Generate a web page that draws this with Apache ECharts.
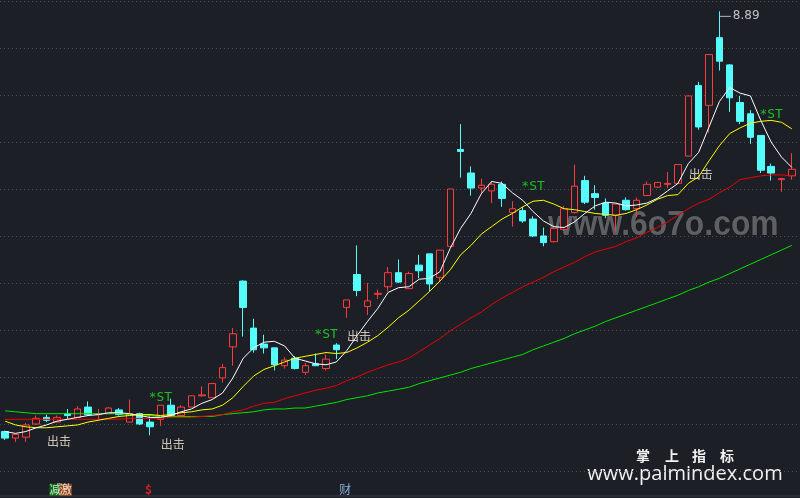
<!DOCTYPE html>
<html><head><meta charset="utf-8">
<script src="https://cdn.jsdelivr.net/npm/echarts@6/dist/echarts.min.js"></script>
<style>html,body{margin:0;padding:0;background:#1c1f26;}#c{width:800px;height:498px;}</style>
</head><body><div id="c"></div>
<script>
// ---- data ----
const opens = [4.42,4.35,4.36,4.50,4.57,4.52,4.61,4.57,4.68,4.60,
  4.61,4.65,4.52,4.61,4.52,4.55,4.70,4.59,4.68,4.80,
  4.78,4.99,5.32,6.02,5.52,5.35,5.31,5.12,5.20,5.05,
  5.14,5.09,5.34,5.74,6.09,5.75,5.88,5.96,6.11,5.94,
  6.19,6.31,6.06,6.39,7.42,7.17,7.01,6.98,7.05,6.75,
  6.77,6.68,6.50,6.44,6.57,6.75,7.09,6.95,6.85,6.72,
  6.88,6.79,6.93,7.02,7.05,7.06,7.35,8.10,7.89,8.61,
  8.32,7.92,7.80,7.57,7.24,7.10,7.14];
const closes = [4.35,4.39,4.49,4.56,4.54,4.57,4.59,4.66,4.60,4.61,
  4.67,4.60,4.61,4.50,4.47,4.70,4.59,4.68,4.80,4.81,
  4.93,5.10,5.46,5.74,5.29,5.31,5.13,5.18,5.09,5.12,
  5.12,5.19,5.29,5.82,5.92,5.81,5.89,6.11,6.01,6.10,
  6.13,5.99,6.35,7.00,7.40,7.01,7.04,7.05,6.90,6.79,
  6.66,6.50,6.43,6.58,6.79,7.03,6.86,6.91,6.72,6.84,
  6.78,6.88,7.05,7.07,7.06,7.26,7.99,7.66,8.43,8.36,
  7.97,7.72,7.55,7.20,7.17,7.11,7.21];
const lows = [4.33,4.31,4.31,4.49,4.52,4.52,4.55,4.57,4.59,4.53,
  4.61,4.59,4.52,4.49,4.38,4.48,4.57,4.59,4.68,4.79,
  4.78,4.94,5.12,5.43,5.26,5.25,5.07,5.09,5.08,5.02,
  5.12,5.07,5.19,5.63,5.86,5.66,5.83,5.91,6.00,5.94,
  6.05,5.91,6.01,6.39,7.12,6.93,6.95,6.85,6.81,6.60,
  6.64,6.49,6.39,6.43,6.57,6.74,6.84,6.78,6.69,6.55,
  6.77,6.70,6.93,7.01,7.01,7.06,7.35,7.63,7.60,8.26,
  7.82,7.69,7.48,7.17,7.09,6.97,7.10];
const highs = [4.43,4.40,4.51,4.59,4.60,4.59,4.66,4.69,4.74,4.66,
  4.68,4.67,4.76,4.62,4.58,4.70,4.77,4.70,4.80,4.90,
  4.93,5.14,5.52,6.03,5.62,5.45,5.31,5.21,5.22,5.15,
  5.25,5.24,5.36,5.82,6.40,6.00,5.93,6.17,6.25,6.12,
  6.30,6.31,6.35,7.00,7.69,7.24,7.11,7.08,7.08,6.87,
  6.81,6.71,6.59,6.60,6.82,7.26,7.14,7.04,6.90,6.84,
  6.91,6.91,7.08,7.07,7.18,7.26,7.99,8.14,8.43,8.89,
  8.33,7.99,7.84,7.57,7.27,7.12,7.38];
const ma5 = [4.42,4.40,4.42,4.46,4.49,4.53,4.55,4.57,4.59,4.60,
  4.62,4.62,4.61,4.59,4.57,4.57,4.59,4.63,4.66,4.72,
  4.76,4.83,4.99,5.20,5.31,5.37,5.38,5.33,5.20,5.17,
  5.14,5.13,5.16,5.28,5.44,5.59,5.73,5.90,5.95,5.96,
  6.04,6.05,6.12,6.37,6.58,6.74,6.95,7.08,7.06,6.96,
  6.88,6.76,6.66,6.60,6.59,6.65,6.74,6.82,6.86,6.85,
  6.82,6.83,6.85,6.90,6.98,7.06,7.27,7.39,7.66,7.93,
  8.08,8.02,7.99,7.73,7.50,7.34,7.23];
const ma10 = [4.53,4.49,4.47,4.46,4.46,4.47,4.48,4.49,4.52,4.54,
  4.56,4.58,4.59,4.60,4.60,4.59,4.60,4.62,4.63,4.65,
  4.66,4.70,4.78,4.90,5.01,5.08,5.12,5.16,5.20,5.22,
  5.24,5.26,5.25,5.26,5.31,5.37,5.44,5.53,5.63,5.71,
  5.81,5.91,6.02,6.14,6.30,6.40,6.52,6.60,6.68,6.74,
  6.81,6.87,6.88,6.84,6.79,6.78,6.76,6.74,6.73,6.72,
  6.74,6.78,6.83,6.89,6.93,6.94,7.06,7.13,7.30,7.46,
  7.59,7.65,7.70,7.72,7.73,7.71,7.64];
const ma30 = [4.55,4.55,4.55,4.55,4.55,4.55,4.55,4.55,4.55,4.55,
  4.55,4.55,4.56,4.56,4.56,4.56,4.57,4.57,4.57,4.58,
  4.59,4.60,4.63,4.65,4.69,4.72,4.73,4.77,4.80,4.83,
  4.86,4.88,4.91,4.96,5.00,5.05,5.09,5.13,5.16,5.20,
  5.27,5.34,5.41,5.49,5.56,5.63,5.69,5.77,5.84,5.90,
  5.96,6.01,6.06,6.12,6.17,6.22,6.28,6.33,6.36,6.39,
  6.44,6.48,6.54,6.59,6.65,6.72,6.79,6.85,6.89,6.96,
  7.02,7.10,7.12,7.14,7.15,7.15,7.14];
const ma60 = [4.64,4.63,4.62,4.61,4.61,4.61,4.61,4.61,4.61,4.61,
  4.61,4.61,4.60,4.60,4.59,4.58,4.58,4.58,4.58,4.58,
  4.58,4.60,4.61,4.62,4.63,4.65,4.66,4.66,4.67,4.67,
  4.69,4.71,4.73,4.76,4.78,4.80,4.83,4.85,4.87,4.89,
  4.93,4.96,4.99,5.02,5.05,5.09,5.12,5.15,5.18,5.21,
  5.24,5.29,5.33,5.37,5.41,5.46,5.50,5.54,5.59,5.63,
  5.67,5.71,5.75,5.79,5.83,5.87,5.92,5.96,6.01,6.05,
  6.10,6.15,6.20,6.25,6.30,6.35,6.40];
const days = opens.map((_, i) => 'D' + (i + 1));
// annotations
const stIdx = [15, 31, 51, 74];
const stVal = [4.78, 5.45, 7.02, 7.79];
const hitIdx = [5, 16, 34, 67];
const hitVal = [4.31, 4.28, 5.43, 7.15];
const maxIdx = 69, maxVal = 8.89;
const footIdx = [5, 6, 14, 33];
const footText = ['减', '激', '$', '财'];
const footVal = 3.80;
const yTicks = {min: 4.0, max: 9.0, step: 0.5};

const BG = '#1c1f26';
const chart = echarts.init(document.getElementById('c'), null, {renderer: 'canvas'});
const footStyles = [
  {color: '#ffffff', backgroundColor: '#12801a'},
  {color: '#ffffff', backgroundColor: '#b8521c'},
  {color: '#ff2020', fontWeight: 'bold'},
  {color: '#9ccfff'}
];
chart.setOption({
  animation: false,
  backgroundColor: BG,
  grid: {left: -3, right: 3, top: 1, height: 470},
  xAxis: {type: 'category', data: days, boundaryGap: true,
    axisLine: {show: false}, axisTick: {show: false}, axisLabel: {show: false}, splitLine: {show: false}},
  yAxis: {type: 'value', min: yTicks.min, max: yTicks.max, interval: yTicks.step,
    axisLine: {show: false}, axisTick: {show: false}, axisLabel: {show: false},
    splitLine: {show: true, lineStyle: {color: '#4a505c', width: 1, type: [1, 3]}}},
  series: [
    {type: 'candlestick', barWidth: 7,
      data: opens.map((o, i) => [o, closes[i], lows[i], highs[i]]),
      itemStyle: {color: BG, color0: '#54fcfc', borderColor: '#ff3c3c', borderColor0: '#54fcfc',
        borderColorDoji: '#ff3c3c', borderWidth: 1}},
    {type: 'line', data: ma60, symbol: 'none', lineStyle: {color: '#00e600', width: 1}},
    {type: 'line', data: ma30, symbol: 'none', lineStyle: {color: '#ee0000', width: 1}},
    {type: 'line', data: ma10, symbol: 'none', lineStyle: {color: '#ffff00', width: 1}},
    {type: 'line', data: ma5, symbol: 'none', lineStyle: {color: '#ffffff', width: 1}},
    {type: 'scatter', symbol: 'rect', symbolSize: [1, 1], itemStyle: {color: 'rgba(0,0,0,0)'},
      data: stIdx.map((i, k) => [i, stVal[k]]),
      label: {show: true, position: 'inside', formatter: '*ST', color: '#1ee41e',
        fontFamily: 'DejaVu Sans Mono', fontSize: 13}},
    {type: 'scatter', symbol: 'rect', symbolSize: [1, 1], itemStyle: {color: 'rgba(0,0,0,0)'},
      data: hitIdx.map((i, k) => [i, hitVal[k]]),
      label: {show: true, position: 'inside', offset: [2, 0], formatter: '出击', color: '#f6ead8',
        fontFamily: 'Noto Sans CJK SC', fontSize: 12}},
    {type: 'scatter', symbol: 'rect', symbolSize: [1, 1], itemStyle: {color: 'rgba(0,0,0,0)'},
      data: [[maxIdx, maxVal]],
      label: {show: true, position: 'right', distance: 0, offset: [0, 5],
        formatter: '{l|}{t|' + maxVal.toFixed(2) + '}',
        rich: {l: {width: 11, height: 1, backgroundColor: '#e0e0e0'},
          t: {color: '#e8e8e8', fontFamily: 'DejaVu Sans', fontSize: 12, padding: [0, 0, 0, 2]}}}},
    {type: 'scatter', clip: false, symbol: 'rect', symbolSize: [1, 1], itemStyle: {color: 'rgba(0,0,0,0)'},
      data: footIdx.map((i, k) => ({value: [i, footVal],
        label: Object.assign({formatter: footText[k]}, footStyles[k])})),
      label: {show: true, position: 'inside', offset: [-1.5, 0], fontFamily: 'Noto Sans CJK SC', fontSize: 12}}
  ],
  graphic: [
    {type: 'rect', shape: {x: 0, y: 495.5, width: 800, height: 1}, style: {fill: '#3a404c'}, silent: true},
    {type: 'text', x: 548, y: 243, scaleX: 0.91, silent: true, z: 1,
      style: {text: 'www.6o7o.com', fill: 'rgba(140,140,140,0.6)', stroke: 'rgba(20,20,20,0.6)', lineWidth: 1,
        font: 'bold 35px "Liberation Sans"', textVerticalAlign: 'bottom'}},
    {type: 'text', x: 643, y: 456, silent: true, style: {text: '掌', fill: '#f2f2f2', font: 'bold 14px "Noto Sans CJK SC"', textAlign: 'center', textVerticalAlign: 'middle'}},
    {type: 'text', x: 672, y: 456, silent: true, style: {text: '上', fill: '#f2f2f2', font: 'bold 14px "Noto Sans CJK SC"', textAlign: 'center', textVerticalAlign: 'middle'}},
    {type: 'text', x: 699, y: 456, silent: true, style: {text: '指', fill: '#f2f2f2', font: 'bold 14px "Noto Sans CJK SC"', textAlign: 'center', textVerticalAlign: 'middle'}},
    {type: 'text', x: 727, y: 456, silent: true, style: {text: '标', fill: '#f2f2f2', font: 'bold 14px "Noto Sans CJK SC"', textAlign: 'center', textVerticalAlign: 'middle'}},
    {type: 'text', x: 685, y: 474, silent: true, style: {text: 'www.palmindex.com', fill: '#f2f2f2', font: '20px "Open Sans"', textAlign: 'center', textVerticalAlign: 'middle'}}
  ]
});
</script></body></html>
